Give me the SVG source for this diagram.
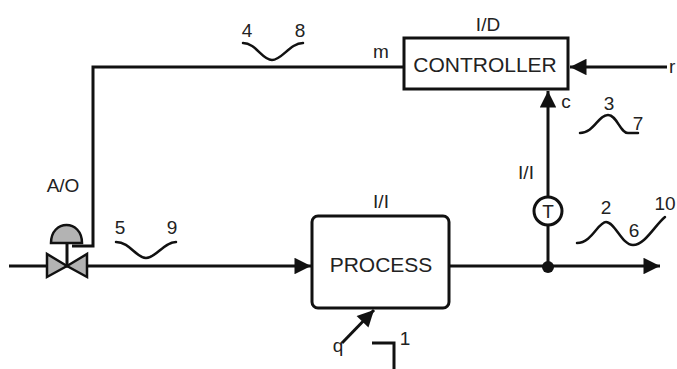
<svg xmlns="http://www.w3.org/2000/svg" width="677" height="369" viewBox="0 0 677 369">
<defs>
<style>
.ln{fill:none;stroke:#111;stroke-width:3}
.wv{fill:none;stroke:#111;stroke-width:2.5;stroke-linecap:round}
.box{fill:#fff;stroke:#111;stroke-width:3}
text{font-family:"Liberation Sans",Arial,sans-serif;fill:#222}
.lb{font-size:19px}
.big{font-size:21px}
.gray{fill:#b3b3b3;stroke:#111;stroke-width:2.5}
</style>
<marker id="ah" viewBox="0 0 10 10" refX="10" refY="5" markerWidth="6" markerHeight="5.5" orient="auto" markerUnits="strokeWidth">
<path d="M0,0 L10,5 L0,10 Z" fill="#111"/>
</marker>
</defs>
<rect width="677" height="369" fill="#fff"/>
<g id="connectors">
<path class="ln" d="M9,266 L311,266" marker-end="url(#ah)"/>
<path class="ln" d="M449,266 L660,266" marker-end="url(#ah)"/>
<path class="ln" d="M548,266 L548,225"/>
<path class="ln" d="M548,197 L548,91" marker-end="url(#ah)"/>
<path class="ln" d="M667,67 L570,67" marker-end="url(#ah)"/>
<path class="ln" d="M404,67 L93,67 L93,246 L72,246"/>
<path class="ln" d="M342,343 L374,310" marker-end="url(#ah)"/>
<path class="ln" d="M372,343 L394,343 L394,369"/>
</g>
<g id="waves">
<path class="wv" d="M243,43 C256,43 262,60 272,60 C282,60 290,43 303,43"/>
<path class="wv" d="M116,242 C130,242 136,258 146,258 C156,258 164,242 176,242"/>
<path class="wv" d="M580,133 C594,133 598,115 608,115 C617,115 620,133 628,133 L638,133"/>
<path class="wv" d="M577,243 C592,243 598,222 606,222 C615,222 622,245 633,245 C645,245 655,225 665,217"/>
</g>
<g id="valve">
<path class="gray" d="M67,266 L47,254 L47,277 Z"/>
<path class="gray" d="M67,266 L87,254 L87,277 Z"/>
<path class="ln" d="M67,243 L67,266"/>
<path class="gray" d="M51,243 C51,219 82,219 82,243 Z"/>
</g>
<g id="process">
<rect class="box" x="312" y="216" width="137" height="92" rx="6"/>
<text class="big" x="381" y="272" text-anchor="middle">PROCESS</text>
</g>
<g id="controller">
<rect class="box" x="404" y="38" width="164" height="51"/>
<text class="big" x="485" y="72" text-anchor="middle">CONTROLLER</text>
</g>
<g id="sensor">
<circle class="box" cx="548" cy="211" r="14"/>
<text class="lb" x="548" y="218" text-anchor="middle">T</text>
</g>
<g id="junction">
<circle cx="548" cy="267" r="6" fill="#111"/>
</g>
<g id="labels" class="lb">
<text x="488" y="31" text-anchor="middle">I/D</text>
<text x="381" y="208" text-anchor="middle">I/I</text>
<text x="526" y="179" text-anchor="middle">I/I</text>
<text x="63" y="192" text-anchor="middle">A/O</text>
<text x="381" y="58" text-anchor="middle">m</text>
<text x="566" y="108" text-anchor="middle">c</text>
<text x="338" y="352" text-anchor="middle">q</text>
<text x="669" y="73">r</text>
<text x="247" y="37" text-anchor="middle">4</text>
<text x="300" y="37" text-anchor="middle">8</text>
<text x="120" y="234" text-anchor="middle">5</text>
<text x="172" y="234" text-anchor="middle">9</text>
<text x="609" y="110" text-anchor="middle">3</text>
<text x="638" y="130" text-anchor="middle">7</text>
<text x="606" y="214" text-anchor="middle">2</text>
<text x="634" y="237" text-anchor="middle">6</text>
<text x="665" y="210" text-anchor="middle">10</text>
<text x="405" y="345" text-anchor="middle">1</text>
</g>
</svg>
